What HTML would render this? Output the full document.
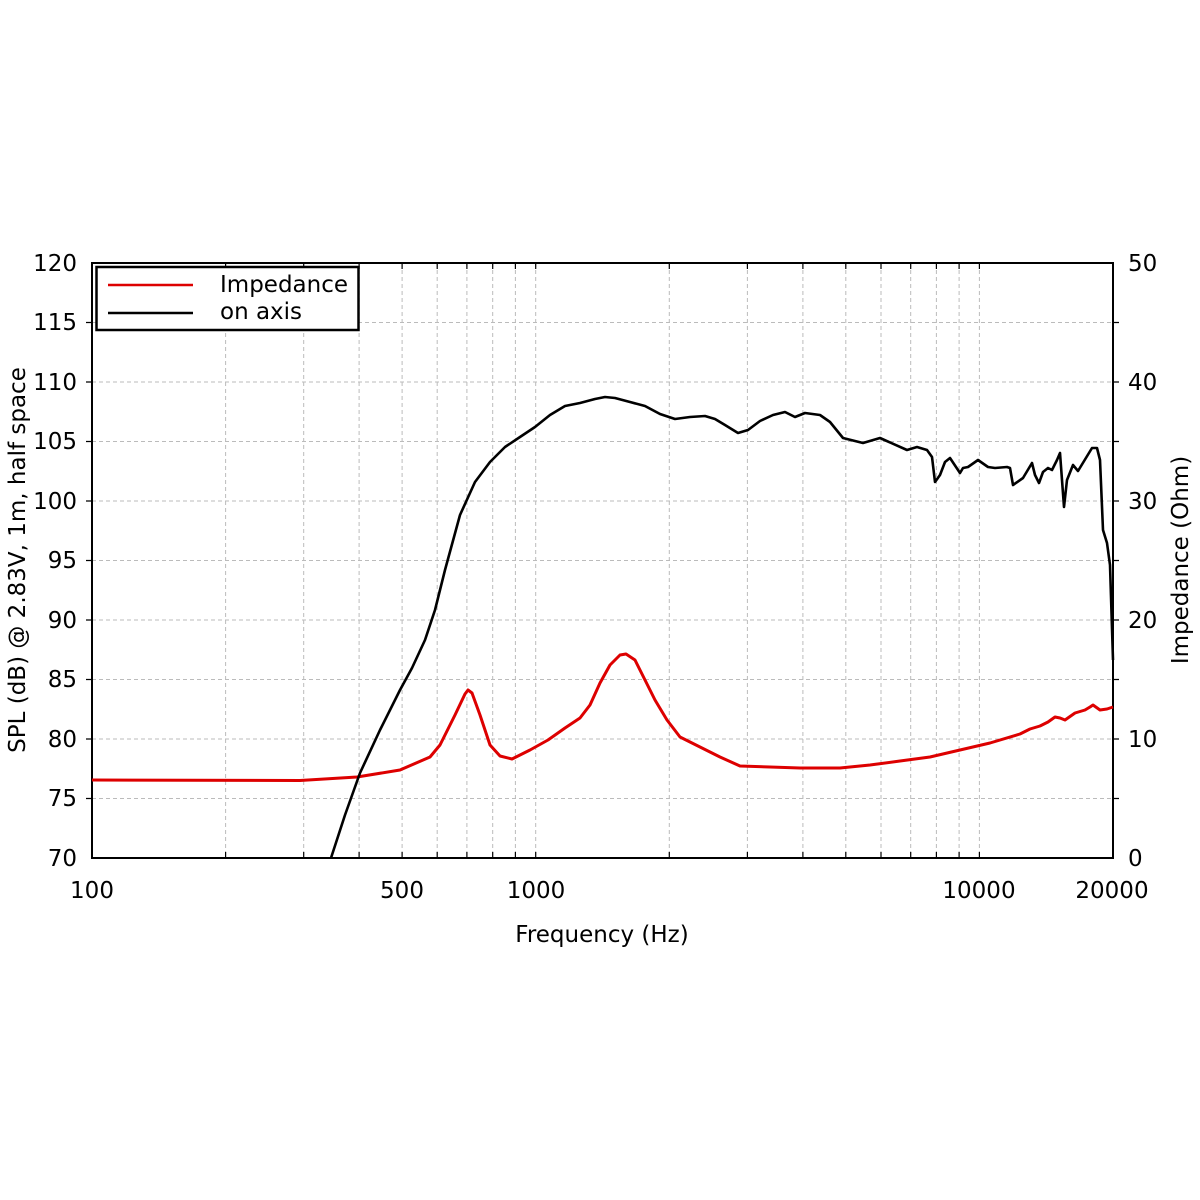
<!DOCTYPE html>
<html><head><meta charset="utf-8"><style>
body{margin:0;background:#fff}
svg{display:block}
text{font-family:"DejaVu Sans","Liberation Sans",sans-serif;font-size:23px;fill:#000}
</style></head><body>
<svg width="1200" height="1200" viewBox="0 0 1200 1200" xmlns="http://www.w3.org/2000/svg">
<g stroke="#bbb" stroke-width="1" stroke-dasharray="4,3" fill="none">
<path d="M225.6 263V858M303.7 263V858M359.1 263V858M402.1 263V858M437.2 263V858M466.9 263V858M492.7 263V858M515.4 263V858M535.7 263V858M669.3 263V858M747.4 263V858M802.9 263V858M845.8 263V858M881 263V858M910.7 263V858M936.4 263V858M959.1 263V858M979.4 263V858"/>
<path d="M92 798.5H1113M92 739H1113M92 679.5H1113M92 620H1113M92 560.5H1113M92 501H1113M92 441.5H1113M92 382H1113M92 322.5H1113"/>
</g>
<g stroke="#000" stroke-width="1.2">
<path d="M225.6 263v6M303.7 263v6M359.1 263v6M402.1 263v6M437.2 263v6M466.9 263v6M492.7 263v6M515.4 263v6M535.7 263v6M669.3 263v6M747.4 263v6M802.9 263v6M845.8 263v6M881 263v6M910.7 263v6M936.4 263v6M959.1 263v6M979.4 263v6M225.6 858v-6M303.7 858v-6M359.1 858v-6M402.1 858v-6M437.2 858v-6M466.9 858v-6M492.7 858v-6M515.4 858v-6M535.7 858v-6M669.3 858v-6M747.4 858v-6M802.9 858v-6M845.8 858v-6M881 858v-6M910.7 858v-6M936.4 858v-6M959.1 858v-6M979.4 858v-6"/>
<path d="M86 798.5h6M86 739h6M86 679.5h6M86 620h6M86 560.5h6M86 501h6M86 441.5h6M86 382h6M86 322.5h6M1113 798.5h6M1113 739h6M1113 679.5h6M1113 620h6M1113 560.5h6M1113 501h6M1113 441.5h6M1113 382h6M1113 322.5h6"/>
</g>
<rect x="92" y="263" width="1021" height="595" fill="none" stroke="#000" stroke-width="2"/>
<polyline fill="none" stroke="#dd0000" stroke-width="3" stroke-linejoin="round" points="92,780 300,780.5 357,777 400,770 430,757 440,745 455,715 465,694 468,690 472,693 480,715 490,745 500,756 512,759 530,750 548,740 565,728 580,718 590,705 600,683 610,665 620,655 626,654 635,660 645,680 655,700 667,720 680,737 700,747 720,757 740,766 770,767 800,768 840,768 870,765 900,761 930,757 960,750 990,743 1020,734 1030,729 1040,726 1048,722 1055,717 1060,718 1065,720 1075,713 1085,710 1090,707 1093,705 1100,710 1107,709 1113,707"/>
<polyline fill="none" stroke="#000" stroke-width="2.6" stroke-linejoin="round" points="331,858 345,815 360,773 380,730 400,690 412,668 425,640 435,610 445,570 460,515 475,482 490,462 505,447 520,437 535,427 550,415 565,406 580,403 595,399 605,397 615,398 630,402 645,406 660,414 675,419 690,417 705,416 715,419 725,425 738,433 748,430 760,421 773,415 785,412 795,417 805,413 820,415 830,422 843,438 863,443 880,438 907,450 917,447 927,450 932,457 935,482 940,475 945,462 950,458 960,473 963,468 968,467 978,460 988,467 995,468 1007,467 1010,468 1013,485 1023,478 1032,463 1035,475 1039,483 1043,472 1048,468 1052,470 1057,460 1060,453 1064,507 1067,480 1073,465 1078,471 1092,448 1097,448 1100,460 1103,530 1107,543 1110,565 1113,660"/>
<rect x="96.5" y="267" width="262" height="63" fill="#fff" stroke="#000" stroke-width="2.5"/>
<line x1="108" y1="285" x2="193" y2="285" stroke="#dd0000" stroke-width="2.5"/>
<line x1="108" y1="313" x2="193" y2="313" stroke="#000" stroke-width="2.5"/>
<text x="220" y="292">Impedance</text>
<text x="220" y="319">on axis</text>
<g text-anchor="end">
<text x="77" y="866">70</text><text x="77" y="806">75</text><text x="77" y="747">80</text><text x="77" y="687">85</text><text x="77" y="628">90</text><text x="77" y="568">95</text><text x="77" y="509">100</text><text x="77" y="449">105</text><text x="77" y="390">110</text><text x="77" y="330">115</text><text x="77" y="271">120</text>
</g>
<g text-anchor="start">
<text x="1128" y="866">0</text><text x="1128" y="747">10</text><text x="1128" y="628">20</text><text x="1128" y="509">30</text><text x="1128" y="390">40</text><text x="1128" y="271">50</text>
</g>
<g text-anchor="middle">
<text x="92" y="898">100</text><text x="402" y="898">500</text><text x="536" y="898">1000</text><text x="979" y="898">10000</text><text x="1112" y="898">20000</text>
<text x="602" y="942">Frequency (Hz)</text>
<text transform="translate(25,560) rotate(-90)">SPL (dB) @ 2.83V, 1m, half space</text>
<text transform="translate(1188,560) rotate(-90)">Impedance (Ohm)</text>
</g>
</svg>
</body></html>
